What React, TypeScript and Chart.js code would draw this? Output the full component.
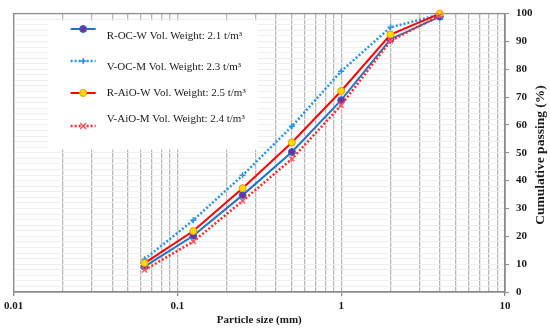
import React, { useEffect, useRef } from 'react';
import { Chart, registerables } from 'chart.js';

Chart.register(...registerables);

// ---- data ----
const sizes = [0.063, 0.125, 0.25, 0.5, 1, 2, 4];
const rOCW = [9.1, 20.2, 34.8, 50.3, 68.9, 90.8, 98.9];
const vOCM = [11.8, 25.8, 41.9, 59.5, 79.3, 95.1, 99.6];
const rAiOW = [10.4, 21.9, 37.3, 53.7, 72.2, 92.5, 100];
const vAiOM = [7.9, 18.1, 32.7, 47.8, 67.1, 90.2, 99.3];
const seriesNames = [
  'R-OC-W Vol. Weight: 2.1 t/m³',
  'V-OC-M Vol. Weight: 2.3 t/m³',
  'R-AiO-W Vol. Weight: 2.5 t/m³',
  'V-AiO-M Vol. Weight: 2.4 t/m³',
];
const xDecades = [0.01, 0.1, 1, 10];
const xMultipliers = [1, 2, 3, 4, 5, 6, 7, 8, 9];
const yLabelStep = 10;
const yGridStep = 2;
const yMin = 0;
const yMax = 100;
const xTitle = 'Particle size (mm)';
const yTitle = 'Cumulative passing (%)';

const xGridValues: number[] = [];
xDecades.slice(0, -1).forEach((d) =>
  xMultipliers.forEach((m) => xGridValues.push(parseFloat((d * m).toPrecision(3))))
);
xGridValues.push(xDecades[xDecades.length - 1]);
const yGridValues: number[] = [];
for (let v = yMin; v <= yMax; v += yGridStep) yGridValues.push(v);

const FONT = '"Liberation Serif", "Times New Roman", serif';

const BLUE = '#2272c8';
const BLUE_DOT = '#2a93e6';
const RED = '#ff0000';
const RED_DOT = '#ff2a2a';

const pts = (ys: number[]) => sizes.map((x, i) => ({ x, y: ys[i] }));

function drawMarker(ctx: CanvasRenderingContext2D, kind: string, x: number, y: number) {
  ctx.save();
  ctx.setLineDash([]);
  if (kind === 'purple') {
    ctx.beginPath();
    ctx.arc(x, y, 3.5, 0, Math.PI * 2);
    ctx.fillStyle = '#7030a0';
    ctx.fill();
    ctx.lineWidth = 1;
    ctx.strokeStyle = BLUE;
    ctx.stroke();
  } else if (kind === 'yellow') {
    ctx.beginPath();
    ctx.arc(x, y, 3.5, 0, Math.PI * 2);
    ctx.fillStyle = '#ffdc00';
    ctx.fill();
    ctx.lineWidth = 1;
    ctx.strokeStyle = '#f59a00';
    ctx.stroke();
  } else if (kind === 'cross') {
    ctx.beginPath();
    ctx.moveTo(x - 3, y);
    ctx.lineTo(x + 3, y);
    ctx.moveTo(x, y - 3);
    ctx.lineTo(x, y + 3);
    ctx.lineWidth = 1.5;
    ctx.strokeStyle = BLUE_DOT;
    ctx.stroke();
  } else if (kind === 'x') {
    ctx.beginPath();
    ctx.moveTo(x - 3, y - 3);
    ctx.lineTo(x + 3, y + 3);
    ctx.moveTo(x + 3, y - 3);
    ctx.lineTo(x - 3, y + 3);
    ctx.lineWidth = 1.5;
    ctx.strokeStyle = '#ff5a6a';
    ctx.stroke();
  }
  ctx.restore();
}

const legendStyles = [
  { color: BLUE, dash: [] as number[], width: 2, marker: 'purple', lineY: 29, textY: 36 },
  { color: BLUE_DOT, dash: [2, 2], width: 2.5, marker: 'cross', lineY: 61, textY: 67 },
  { color: RED, dash: [] as number[], width: 2, marker: 'yellow', lineY: 93, textY: 93 },
  { color: RED_DOT, dash: [2, 2], width: 2.5, marker: 'x', lineY: 126, textY: 119 },
];

const customPlugin = {
  id: 'customDecor',
  beforeDatasetsDraw(chart: any) {
    const { ctx, chartArea: a } = chart;
    ctx.save();
    // plot border
    ctx.strokeStyle = '#8c8c8c';
    ctx.lineWidth = 1.3;
    ctx.strokeRect(a.left, a.top, a.right - a.left, a.bottom - a.top);
    // legend box
    const lx = a.left + 34;
    const ly = a.top + 7;
    ctx.fillStyle = '#ffffff';
    ctx.fillRect(lx, ly, 210, 129);
    legendStyles.forEach((s, i) => {
      const x0 = lx + 23;
      const x1 = lx + 48;
      ctx.save();
      ctx.beginPath();
      ctx.setLineDash(s.dash);
      ctx.strokeStyle = s.color;
      ctx.lineWidth = s.width;
      ctx.moveTo(x0, s.lineY);
      ctx.lineTo(x1, s.lineY);
      ctx.stroke();
      ctx.restore();
      drawMarker(ctx, s.marker, (x0 + x1) / 2, s.lineY);
      ctx.fillStyle = '#1a1a1a';
      ctx.font = `11px ${FONT}`;
      ctx.textBaseline = 'middle';
      ctx.textAlign = 'left';
      ctx.fillText(seriesNames[i], lx + 59, s.textY);
    });
    ctx.restore();
  },
  afterDraw(chart: any) {
    const { ctx, chartArea: a } = chart;
    ctx.save();
    ctx.fillStyle = '#1a1a1a';
    ctx.font = `bold 11px ${FONT}`;
    ctx.textAlign = 'center';
    ctx.textBaseline = 'middle';
    ctx.fillText(xTitle, (a.left + a.right) / 2, 320);
    ctx.font = `bold 13.5px ${FONT}`;
    ctx.translate(541, 155);
    ctx.rotate(-Math.PI / 2);
    ctx.fillText(yTitle, 0, 0);
    ctx.restore();
  },
};

export default function App() {
  const ref = useRef<HTMLCanvasElement>(null);
  useEffect(() => {
    document.body.style.margin = '0';
    const canvas = ref.current!;
    const chart = new Chart(canvas, {
      type: 'line',
      data: {
        datasets: [
          {
            label: seriesNames[0],
            data: pts(rOCW),
            order: 4,
            clip: false,
            borderColor: BLUE,
            borderWidth: 2,
            pointStyle: 'circle',
            pointRadius: 3.5,
            pointBackgroundColor: '#7030a0',
            pointBorderColor: BLUE,
            pointBorderWidth: 1,
          },
          {
            label: seriesNames[1],
            data: pts(vOCM),
            order: 3,
            clip: false,
            borderColor: BLUE_DOT,
            borderWidth: 2.5,
            borderDash: [2, 2],
            pointStyle: 'cross',
            pointRadius: 3,
            pointBorderColor: BLUE_DOT,
            pointBackgroundColor: BLUE_DOT,
            pointBorderWidth: 1.5,
          },
          {
            label: seriesNames[2],
            data: pts(rAiOW),
            order: 2,
            clip: false,
            borderColor: RED,
            borderWidth: 2,
            pointStyle: 'circle',
            pointRadius: 3.5,
            pointBackgroundColor: '#ffdc00',
            pointBorderColor: '#f59a00',
            pointBorderWidth: 1,
          },
          {
            label: seriesNames[3],
            data: pts(vAiOM),
            order: 1,
            clip: false,
            borderColor: RED_DOT,
            borderWidth: 2.5,
            borderDash: [2, 2],
            pointStyle: 'crossRot',
            pointRadius: 3.5,
            pointBorderColor: '#ff5a6a',
            pointBackgroundColor: '#ff5a6a',
            pointBorderWidth: 1.5,
          },
        ],
      },
      options: {
        animation: false,
        responsive: false,
        devicePixelRatio: 1,
        layout: { padding: { left: 12, top: 6, right: 0, bottom: 0 } },
        plugins: { legend: { display: false }, tooltip: { enabled: false } },
        scales: {
          x: {
            type: 'logarithmic',
            min: xDecades[0],
            max: xDecades[xDecades.length - 1],
            afterBuildTicks: (scale: any) => {
              scale.ticks = xGridValues.map((v) => ({ value: v }));
            },
            afterFit: (scale: any) => {
              scale.height = 38;
            },
            ticks: {
              autoSkip: false,
              maxRotation: 0,
              padding: 4,
              color: '#1a1a1a',
              font: { family: FONT, size: 11, weight: 'bold' },
              callback: (v: any) => (xDecades.includes(v) ? String(v) : ''),
            },
            grid: {
              color: '#b9b9b9',
              lineWidth: 1.3,
              tickLength: 4,
              tickColor: (c: any) =>
                c.tick && xDecades.includes(c.tick.value) ? '#8c8c8c' : 'rgba(0,0,0,0)',
            },
            border: { color: '#8c8c8c', width: 1.3 },
          },
          y: {
            type: 'linear',
            position: 'right',
            min: yMin,
            max: yMax,
            afterBuildTicks: (scale: any) => {
              scale.ticks = yGridValues.map((v) => ({ value: v }));
            },
            afterFit: (scale: any) => {
              scale.width = 45;
            },
            ticks: {
              autoSkip: false,
              padding: 7,
              color: '#1a1a1a',
              font: { family: FONT, size: 11, weight: 'bold' },
              callback: (v: any) => (v % yLabelStep === 0 ? String(v) : ''),
            },
            grid: {
              color: '#eeeeee',
              lineWidth: 1,
              tickLength: 4,
              tickColor: (c: any) =>
                c.tick && c.tick.value % yLabelStep === 0 ? '#8c8c8c' : 'rgba(0,0,0,0)',
            },
            border: { color: '#8c8c8c', width: 1.3 },
          },
        },
      },
      plugins: [customPlugin],
    } as any);
    return () => chart.destroy();
  }, []);
  return (
    <div style={{ position: 'fixed', left: 0, top: 0, width: 550, height: 330, background: '#fff' }}>
      <canvas ref={ref} width={550} height={330} />
    </div>
  );
}
